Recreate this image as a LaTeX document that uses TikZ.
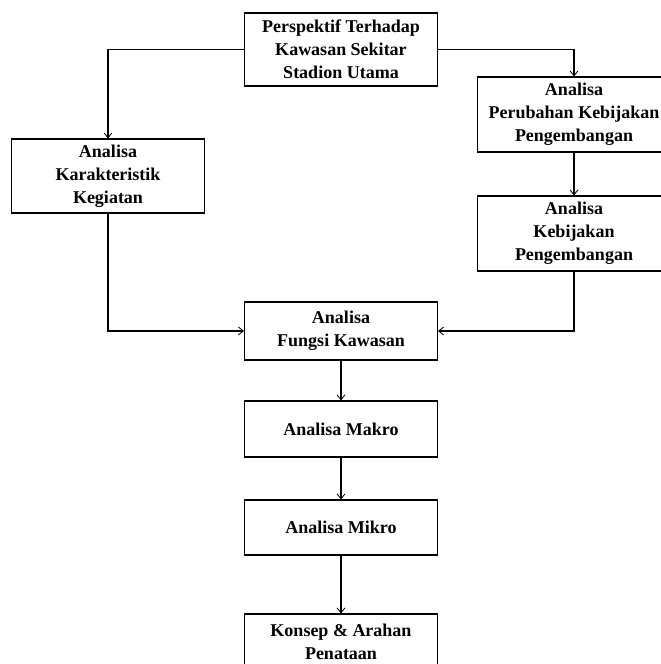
\documentclass[tikz,border=0pt]{standalone}
\usepackage{fontspec}
\setmainfont{Liberation Serif}
\usetikzlibrary{arrows.meta}
\begin{document}
\begin{tikzpicture}[x=1pt,y=-1pt,
  box/.style={draw, line width=1.1pt, minimum width=193pt, inner sep=0pt, align=center,
    font=\fontsize{18}{23}\selectfont\bfseries},
  conn/.style={line width=1.1pt, -{Straight Barb[length=5pt,width=8pt,line width=0.8pt]}}
]
\useasboundingbox (0,0) rectangle (661,664);
\node[box, minimum height=73pt] (top) at (341,49.5) {Perspektif Terhadap\\Kawasan Sekitar\\Stadion Utama};
\node[box, minimum height=74pt] (left) at (108,176) {Analisa\\Karakteristik\\Kegiatan};
\node[box, minimum height=75pt] (r1) at (574,114.5) {Analisa\\Perubahan Kebijakan\\Pengembangan};
\node[box, minimum height=75pt] (r2) at (574,233.5) {Analisa\\Kebijakan\\Pengembangan};
\node[box, minimum height=58pt] (fungsi) at (341,331) {Analisa\\Fungsi Kawasan};
\node[box, minimum height=56pt] (makro) at (341,429) {Analisa Makro};
\node[box, minimum height=55pt] (mikro) at (341,527.5) {Analisa Mikro};
\node[box, minimum height=56pt] (konsep) at (341,642) {Konsep \& Arahan\\Penataan};
\draw[conn] (top.west) -| (left.north);
\draw[conn] (top.east) -| (r1.north);
\draw[conn] (r1.south) -- (r2.north);
\draw[conn] (left.south) |- (fungsi.west);
\draw[conn] (r2.south) |- (fungsi.east);
\draw[conn] (fungsi.south) -- (makro.north);
\draw[conn] (makro.south) -- (mikro.north);
\draw[conn] (mikro.south) -- (konsep.north);
\end{tikzpicture}
\end{document}
